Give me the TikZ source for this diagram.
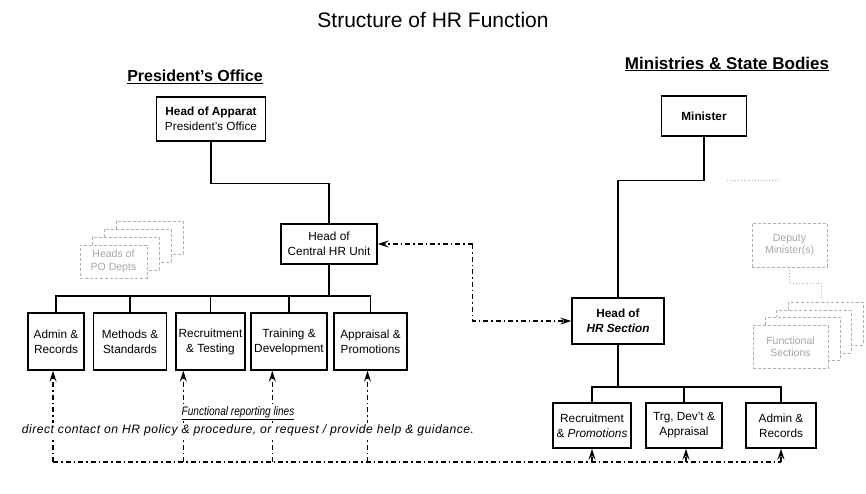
\documentclass[tikz,border=0pt]{standalone}
\usepackage{fontspec}
\setmainfont{Liberation Sans}
\usetikzlibrary{arrows.meta}
\begin{document}
\begin{tikzpicture}[x=1pt,y=-1pt,
  unit/.style={draw, line width=1.4pt, align=center, inner sep=1pt,
    font=\fontsize{11.8}{15}\selectfont},
  org/.style={line width=1.5pt},
  link/.style={line width=1.4pt, dash pattern=on 5pt off 3pt on 1.5pt off 3pt},
  tip/.style={-{Stealth[length=11pt,width=7pt,inset=4pt]}},
  faint/.style={draw=black!30, line width=0.8pt, dash pattern=on 3pt off 2pt},
  fainttext/.style={text=black!35, align=center, font=\fontsize{10.5}{12.5}\selectfont},
  heading/.style={font=\bfseries},
  note/.style={fill=white, inner sep=1pt}
]
\useasboundingbox (0,0) rectangle (866,493);

% titles
\node (title) at (433,20) {\fontsize{21}{25}\selectfont Structure of HR Function};
\node[heading] (po) at (195,77) {\fontsize{16}{19}\selectfont\underline{President's Office}};
\node[heading] (msb) at (727,64) {\fontsize{17}{20}\selectfont\underline{Ministries \& State Bodies}};

% ---------- President's Office ----------
\node[unit, minimum width=109pt, minimum height=44pt] (apparat) at (211,119)
  {\textbf{Head of Apparat}\\President's Office};
\node[unit, minimum width=96pt, minimum height=40pt] (central) at (329,244)
  {Head of\\Central HR Unit};

\node[unit, minimum width=56pt, minimum height=57pt] (adminL) at (56,341.5) {Admin \&\\Records};
\node[unit, minimum width=73pt, minimum height=57pt] (methods) at (130,341.5) {Methods \&\\Standards};
\node[unit, minimum width=69pt, minimum height=57pt] (recruitL) at (210.5,341.5) {Recruitment\\\& Testing};
\node[unit, minimum width=76pt, minimum height=57pt] (training) at (289,341.5) {Training \&\\Development};
\node[unit, minimum width=73pt, minimum height=57pt] (appraisal) at (370.5,341.5) {Appraisal \&\\Promotions};

\coordinate (busL) at (329,296);
\draw[org] (apparat.south) -- ++(0,42) -| (central.north);
\draw[org] (central.south) -- (central.south |- busL);
\draw[org] (adminL.north) -- (adminL.north |- busL) -- (appraisal.north |- busL) -- (appraisal.north);
\foreach \n in {methods,recruitL,training}
  \draw[org] (\n.north) -- (\n.north |- busL);

% faint stack of departments
\foreach \i/\dx/\dy in {3/36/-24,2/24/-16,1/12/-8}
  \draw[faint, fill=white] (80+\dx,245+\dy) rectangle (147+\dx,278+\dy);
\node[faint, fill=white, minimum width=67pt, minimum height=33pt, fainttext] (heads) at (113.5,261.5)
  {Heads of\\PO Depts};

% ---------- Ministries ----------
\node[unit, minimum width=85pt, minimum height=40pt] (minister) at (704,116) {\textbf{Minister}};
\node[unit, minimum width=92pt, minimum height=46pt] (hrsec) at (618,321)
  {\textbf{Head of}\\\textbf{\itshape HR Section}};

\node[unit, minimum width=78pt, minimum height=45pt] (recruitR) at (592,425.5) {Recruitment\\\& \textit{Promotions}};
\node[unit, minimum width=76pt, minimum height=45pt] (trg) at (684,425.5) {Trg, Dev't \&\\Appraisal};
\node[unit, minimum width=70pt, minimum height=45pt] (adminR) at (781,425.5) {Admin \&\\Records};

\coordinate (busR) at (618,387);
\draw[org] (minister.south) -- ++(0,44) -| (hrsec.north);
\draw[org] (hrsec.south) -- (hrsec.south |- busR);
\draw[org] (recruitR.north) -- (recruitR.north |- busR) -- (adminR.north |- busR) -- (adminR.north);
\draw[org] (trg.north) -- (trg.north |- busR);

% faint deputy ministers and sections
\draw[black!30, line width=0.8pt, dotted] (727,180) -- (780,180);
\node[faint, minimum width=75pt, minimum height=44pt, fainttext] (deputy) at (789.5,245)
  {Deputy\\Minister(s)};
\draw[black!30, line width=0.8pt, dotted] (deputy.south) -- ++(0,16) -- ++(32,0) -- ++(0,16);
\foreach \i/\dx/\dy in {3/35/-23,2/23/-15,1/12/-8}
  \draw[faint, fill=white] (753+\dx,325+\dy) rectangle (828+\dx,368+\dy);
\node[faint, fill=white, minimum width=75pt, minimum height=43pt, fainttext] (sections) at (790.5,346.5)
  {Functional\\Sections};

% ---------- links between central HR and HR sections ----------
\draw[link, tip] (central.east) ++(95,0) coordinate (lk) -- (central.east);
\draw[link, tip] (lk) |- (hrsec.west);

% functional reporting lines
\coordinate (base) at (0,462);
\coordinate (f1) at ([xshift=-3pt]adminL.south);
\coordinate (f2) at ([xshift=8pt]recruitL.south west);
\coordinate (f3) at ([xshift=22pt]training.south west);
\coordinate (f4) at ([xshift=-3pt]appraisal.south);
\coordinate (f5) at (recruitR.south);
\coordinate (f6) at ([xshift=2pt]trg.south);
\coordinate (f7) at (adminR.south);
\draw[link] (f1 |- base) -- (f7 |- base);
\foreach \f in {f1,f2,f3,f4,f5,f6,f7}
  \draw[link, tip] (\f |- base) -- (\f);

\node[note] (fr) at (238,413)
  {\scalebox{0.82}[1]{\fontsize{12.3}{14}\selectfont\itshape\underline{Functional reporting lines}}};
\node[note] (fd) at (248,430)
  {\fontsize{12.2}{14}\selectfont\itshape\addfontfeature{LetterSpace=4}direct contact on HR policy \& procedure, or request / provide help \& guidance.};
\end{tikzpicture}
\end{document}
